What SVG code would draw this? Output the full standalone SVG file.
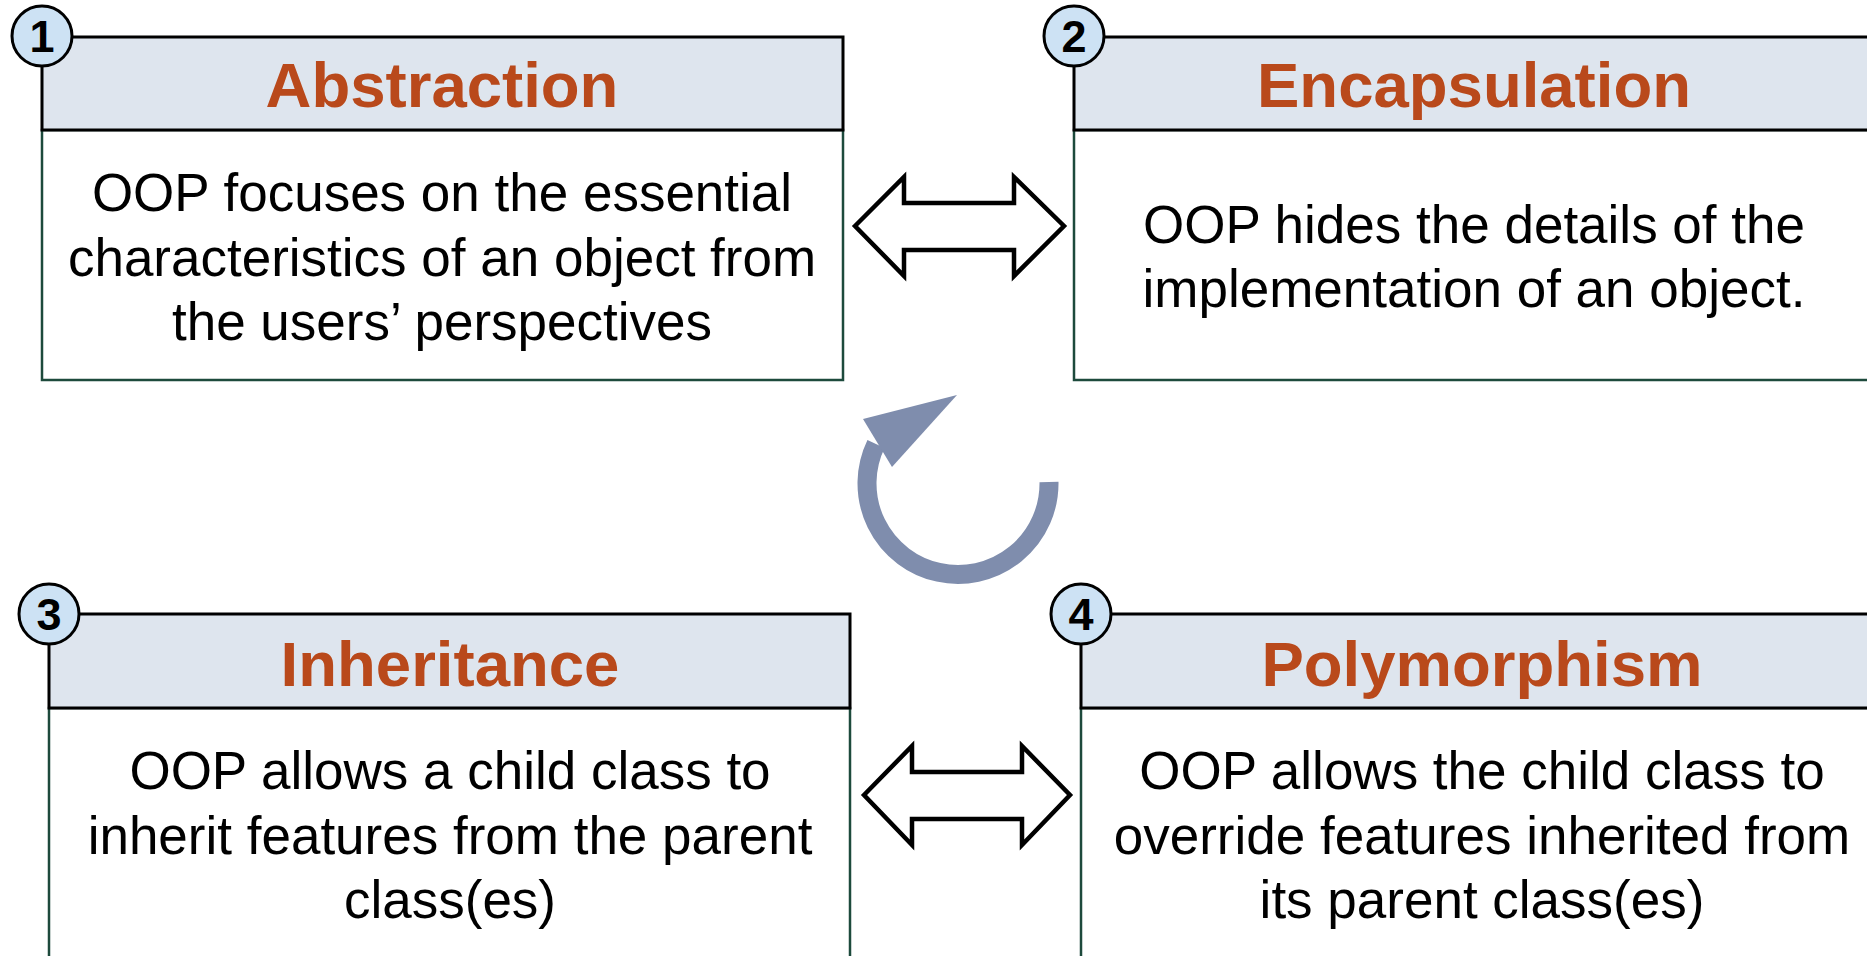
<svg xmlns="http://www.w3.org/2000/svg" width="1867" height="956" viewBox="0 0 1867 956">
<style>
.hdr{fill:#DEE5EE;stroke:#000;stroke-width:3}
.body{fill:#fff;stroke:#1D4A3C;stroke-width:2.5}
.title{font-family:"Liberation Sans",Arial,sans-serif;font-weight:bold;font-size:63.5px;fill:#B9491B;text-anchor:middle}
.txt{font-family:"Liberation Sans",Arial,sans-serif;font-size:53px;fill:#000;text-anchor:middle}
.badge{fill:#CDE2F4;stroke:#000;stroke-width:3}
.num{font-family:"Liberation Sans",Arial,sans-serif;font-weight:bold;font-size:45px;fill:#000;text-anchor:middle}
.dbl{fill:#fff;stroke:#000;stroke-width:4.5;stroke-linejoin:miter}
</style>
<rect width="1867" height="956" fill="#fff"/>
<g id="connectors">
<polygon class="dbl" points="855,226 904,177 904,203 1014,203 1014,177 1064,226 1014,276 1014,250 904,250 904,276"/>
<polygon class="dbl" points="864,795 912,746 912,772 1022,772 1022,746 1070,795 1022,845 1022,819 912,819 912,845"/>
<g id="cycle">
<path d="M 1049 482 A 91 91 0 1 1 876 444" fill="none" stroke="#7F8DAD" stroke-width="19"/>
<polygon points="957,395 863,419 892,467" fill="#7F8DAD"/>
</g>
</g>
<g id="node1">
<rect class="body" x="42" y="130" width="801" height="250"/>
<rect class="hdr" x="42" y="37" width="801" height="93"/>
<text class="title" x="442" y="107">Abstraction</text>
<text class="txt" x="442" y="211">OOP focuses on the essential</text>
<text class="txt" x="442" y="276">characteristics of an object from</text>
<text class="txt" x="442" y="340">the users’ perspectives</text>
<circle class="badge" cx="42" cy="36" r="30"/>
<text class="num" x="42" y="52">1</text>
</g>
<g id="node2">
<rect class="body" x="1074" y="130" width="810" height="250"/>
<rect class="hdr" x="1074" y="37" width="810" height="93"/>
<text class="title" x="1474" y="107">Encapsulation</text>
<text class="txt" x="1474" y="243">OOP hides the details of the</text>
<text class="txt" x="1474" y="307">implementation of an object.</text>
<circle class="badge" cx="1074" cy="36" r="30"/>
<text class="num" x="1074" y="52">2</text>
</g>
<g id="node3">
<rect class="body" x="49" y="708" width="801" height="270"/>
<rect class="hdr" x="49" y="614" width="801" height="94"/>
<text class="title" x="450" y="686">Inheritance</text>
<text class="txt" x="450" y="789">OOP allows a child class to</text>
<text class="txt" x="450" y="854">inherit features from the parent</text>
<text class="txt" x="450" y="918">class(es)</text>
<circle class="badge" cx="49" cy="614" r="30"/>
<text class="num" x="49" y="630">3</text>
</g>
<g id="node4">
<rect class="body" x="1081" y="708" width="810" height="270"/>
<rect class="hdr" x="1081" y="614" width="810" height="94"/>
<text class="title" x="1482" y="686">Polymorphism</text>
<text class="txt" x="1482" y="789">OOP allows the child class to</text>
<text class="txt" x="1482" y="854">override features inherited from</text>
<text class="txt" x="1482" y="918">its parent class(es)</text>
<circle class="badge" cx="1081" cy="614" r="30"/>
<text class="num" x="1081" y="630">4</text>
</g>
</svg>
